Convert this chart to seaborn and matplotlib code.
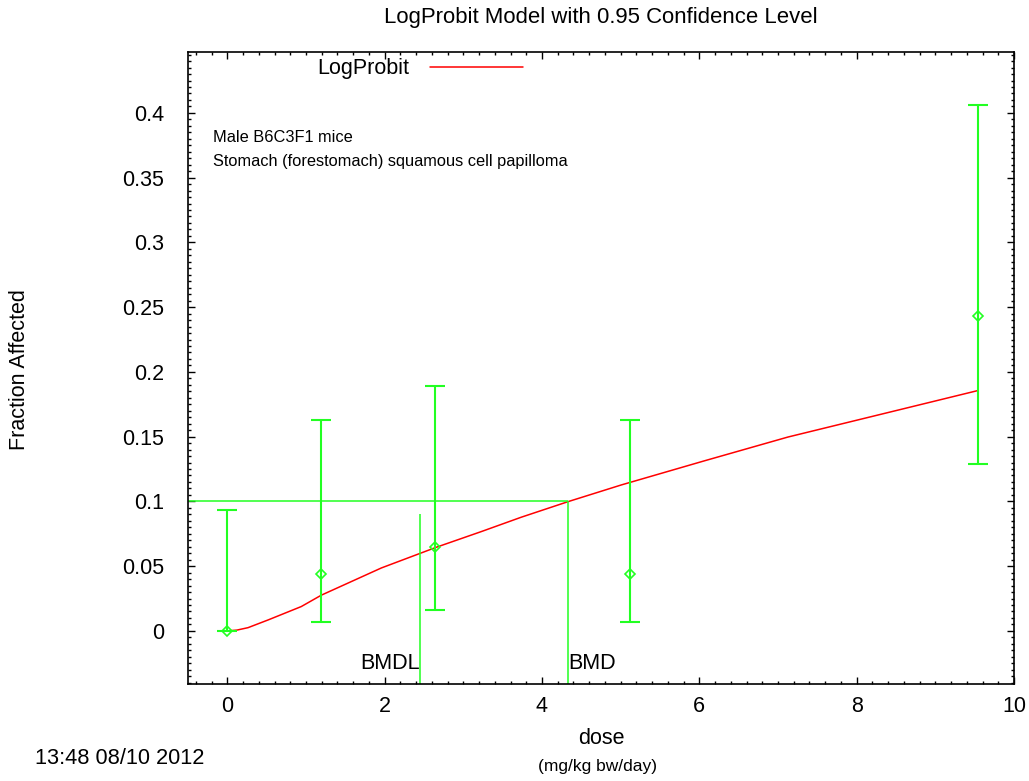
import matplotlib
matplotlib.use("Agg")
import matplotlib.pyplot as plt
from matplotlib.ticker import MultipleLocator, FormatStrFormatter
import numpy as np
import seaborn as sns

# Observed data (fraction affected with 95% CI)
dose = np.array([0, 1.19, 2.64, 5.12, 9.54])
frac = np.array([0.0, 0.044, 0.065, 0.044, 0.243])
lower = np.array([0.0, 0.007, 0.016, 0.007, 0.129])
upper = np.array([0.093, 0.163, 0.189, 0.163, 0.406])

# LogProbit fitted curve
curve_x = [0, 0.12, 0.263, 0.52, 0.94, 1.195, 1.958, 2.657, 3.229, 3.737,
           4.331, 5.008, 6.063, 7.127, 9.542]
curve_y = [0, 0.0006, 0.0025, 0.0085, 0.0188, 0.0276, 0.0486, 0.0646, 0.0767,
           0.0878, 0.0998, 0.1127, 0.1313, 0.1497, 0.1856]

# benchmark dose lines
bmr = 0.1
bmd = 4.33
bmdl = 2.45
bmdl_top = 0.09

sns.set_style("ticks")
plt.rcParams['font.family'] = ['Liberation Sans', 'DejaVu Sans']
plt.rcParams['text.color'] = 'black'
plt.rcParams['xtick.color'] = 'black'
plt.rcParams['ytick.color'] = 'black'
plt.rcParams['axes.labelcolor'] = 'black'

fig = plt.figure(figsize=(10.29, 7.81), dpi=100)
ax = fig.add_axes([0.1827, 0.1242, 0.8027, 0.8092])

xlim = (-0.5, 10)
ylim = (-0.041, 0.447)
ax.set_xlim(xlim)
ax.set_ylim(ylim)

green = '#22ff22'

# curve
sns.lineplot(x=curve_x, y=curve_y, color='red', linewidth=1.1, ax=ax,
             label='LogProbit', sort=False)

# error bars + points
ax.errorbar(dose, frac, yerr=[frac - lower, upper - frac], fmt='none',
            ecolor=green, elinewidth=1.5, capsize=7, capthick=1.5)
ax.plot(dose, frac, linestyle='none', marker='D', markersize=5,
        mfc='none', mec=green, mew=1.2)

# BMD / BMDL lines
ax.hlines(bmr, xlim[0], bmd, color=green, linewidth=1.1)
ax.vlines(bmd, ylim[0], bmr, color=green, linewidth=1.1)
ax.vlines(bmdl, ylim[0], bmdl_top, color=green, linewidth=1.1)
ax.text(bmdl, -0.0255, 'BMDL', ha='right', va='center', fontsize=15.5)
ax.text(bmd, -0.0255, 'BMD', ha='left', va='center', fontsize=15.5)

# annotation
ax.text(0.0303, 0.8655, 'Male B6C3F1 mice', transform=ax.transAxes,
        ha='left', va='center', fontsize=11.8)
ax.text(0.0303, 0.8275, 'Stomach (forestomach) squamous cell papilloma',
        transform=ax.transAxes, ha='left', va='center', fontsize=11.8)

# ticks
ax.xaxis.set_major_locator(MultipleLocator(2))
ax.xaxis.set_minor_locator(MultipleLocator(0.2))
ax.yaxis.set_major_locator(MultipleLocator(0.05))
ax.yaxis.set_minor_locator(MultipleLocator(0.005))
ax.yaxis.set_major_formatter(FormatStrFormatter('%g'))
ax.tick_params(which='both', direction='in', top=True, right=True,
               width=1, color='black', labelcolor='black', labelsize=15.5)
ax.tick_params(which='major', length=5)
ax.tick_params(which='minor', length=2.5)
ax.tick_params(axis='x', pad=9)
ax.tick_params(axis='y', pad=17)
for s in ax.spines.values():
    s.set_linewidth(1.2)
    s.set_color('black')

# legend
ax.legend(loc='center', bbox_to_anchor=(0.408, 0.9117),
          bbox_transform=fig.transFigure, frameon=False, markerfirst=False,
          handlelength=4.3, handletextpad=1.0, fontsize=15.5)

# titles / labels
fig.text(0.584, 1 - 18 / 781, 'LogProbit Model with 0.95 Confidence Level',
         ha='center', va='center', fontsize=15.9)
fig.text(20 / 1029, 1 - 370 / 781, 'Fraction Affected', rotation=90,
         ha='center', va='center', fontsize=15.5)
fig.text(0.584, 1 - 738 / 781, 'dose', ha='center', va='center', fontsize=15.5)
fig.text(0.581, 1 - 767 / 781, '(mg/kg bw/day)', ha='center', va='center',
         fontsize=12.5)
fig.text(35 / 1029, 1 - 759 / 781, '13:48 08/10 2012', ha='left',
         va='center', fontsize=15.7)

fig.savefig('out.png', dpi=100)
